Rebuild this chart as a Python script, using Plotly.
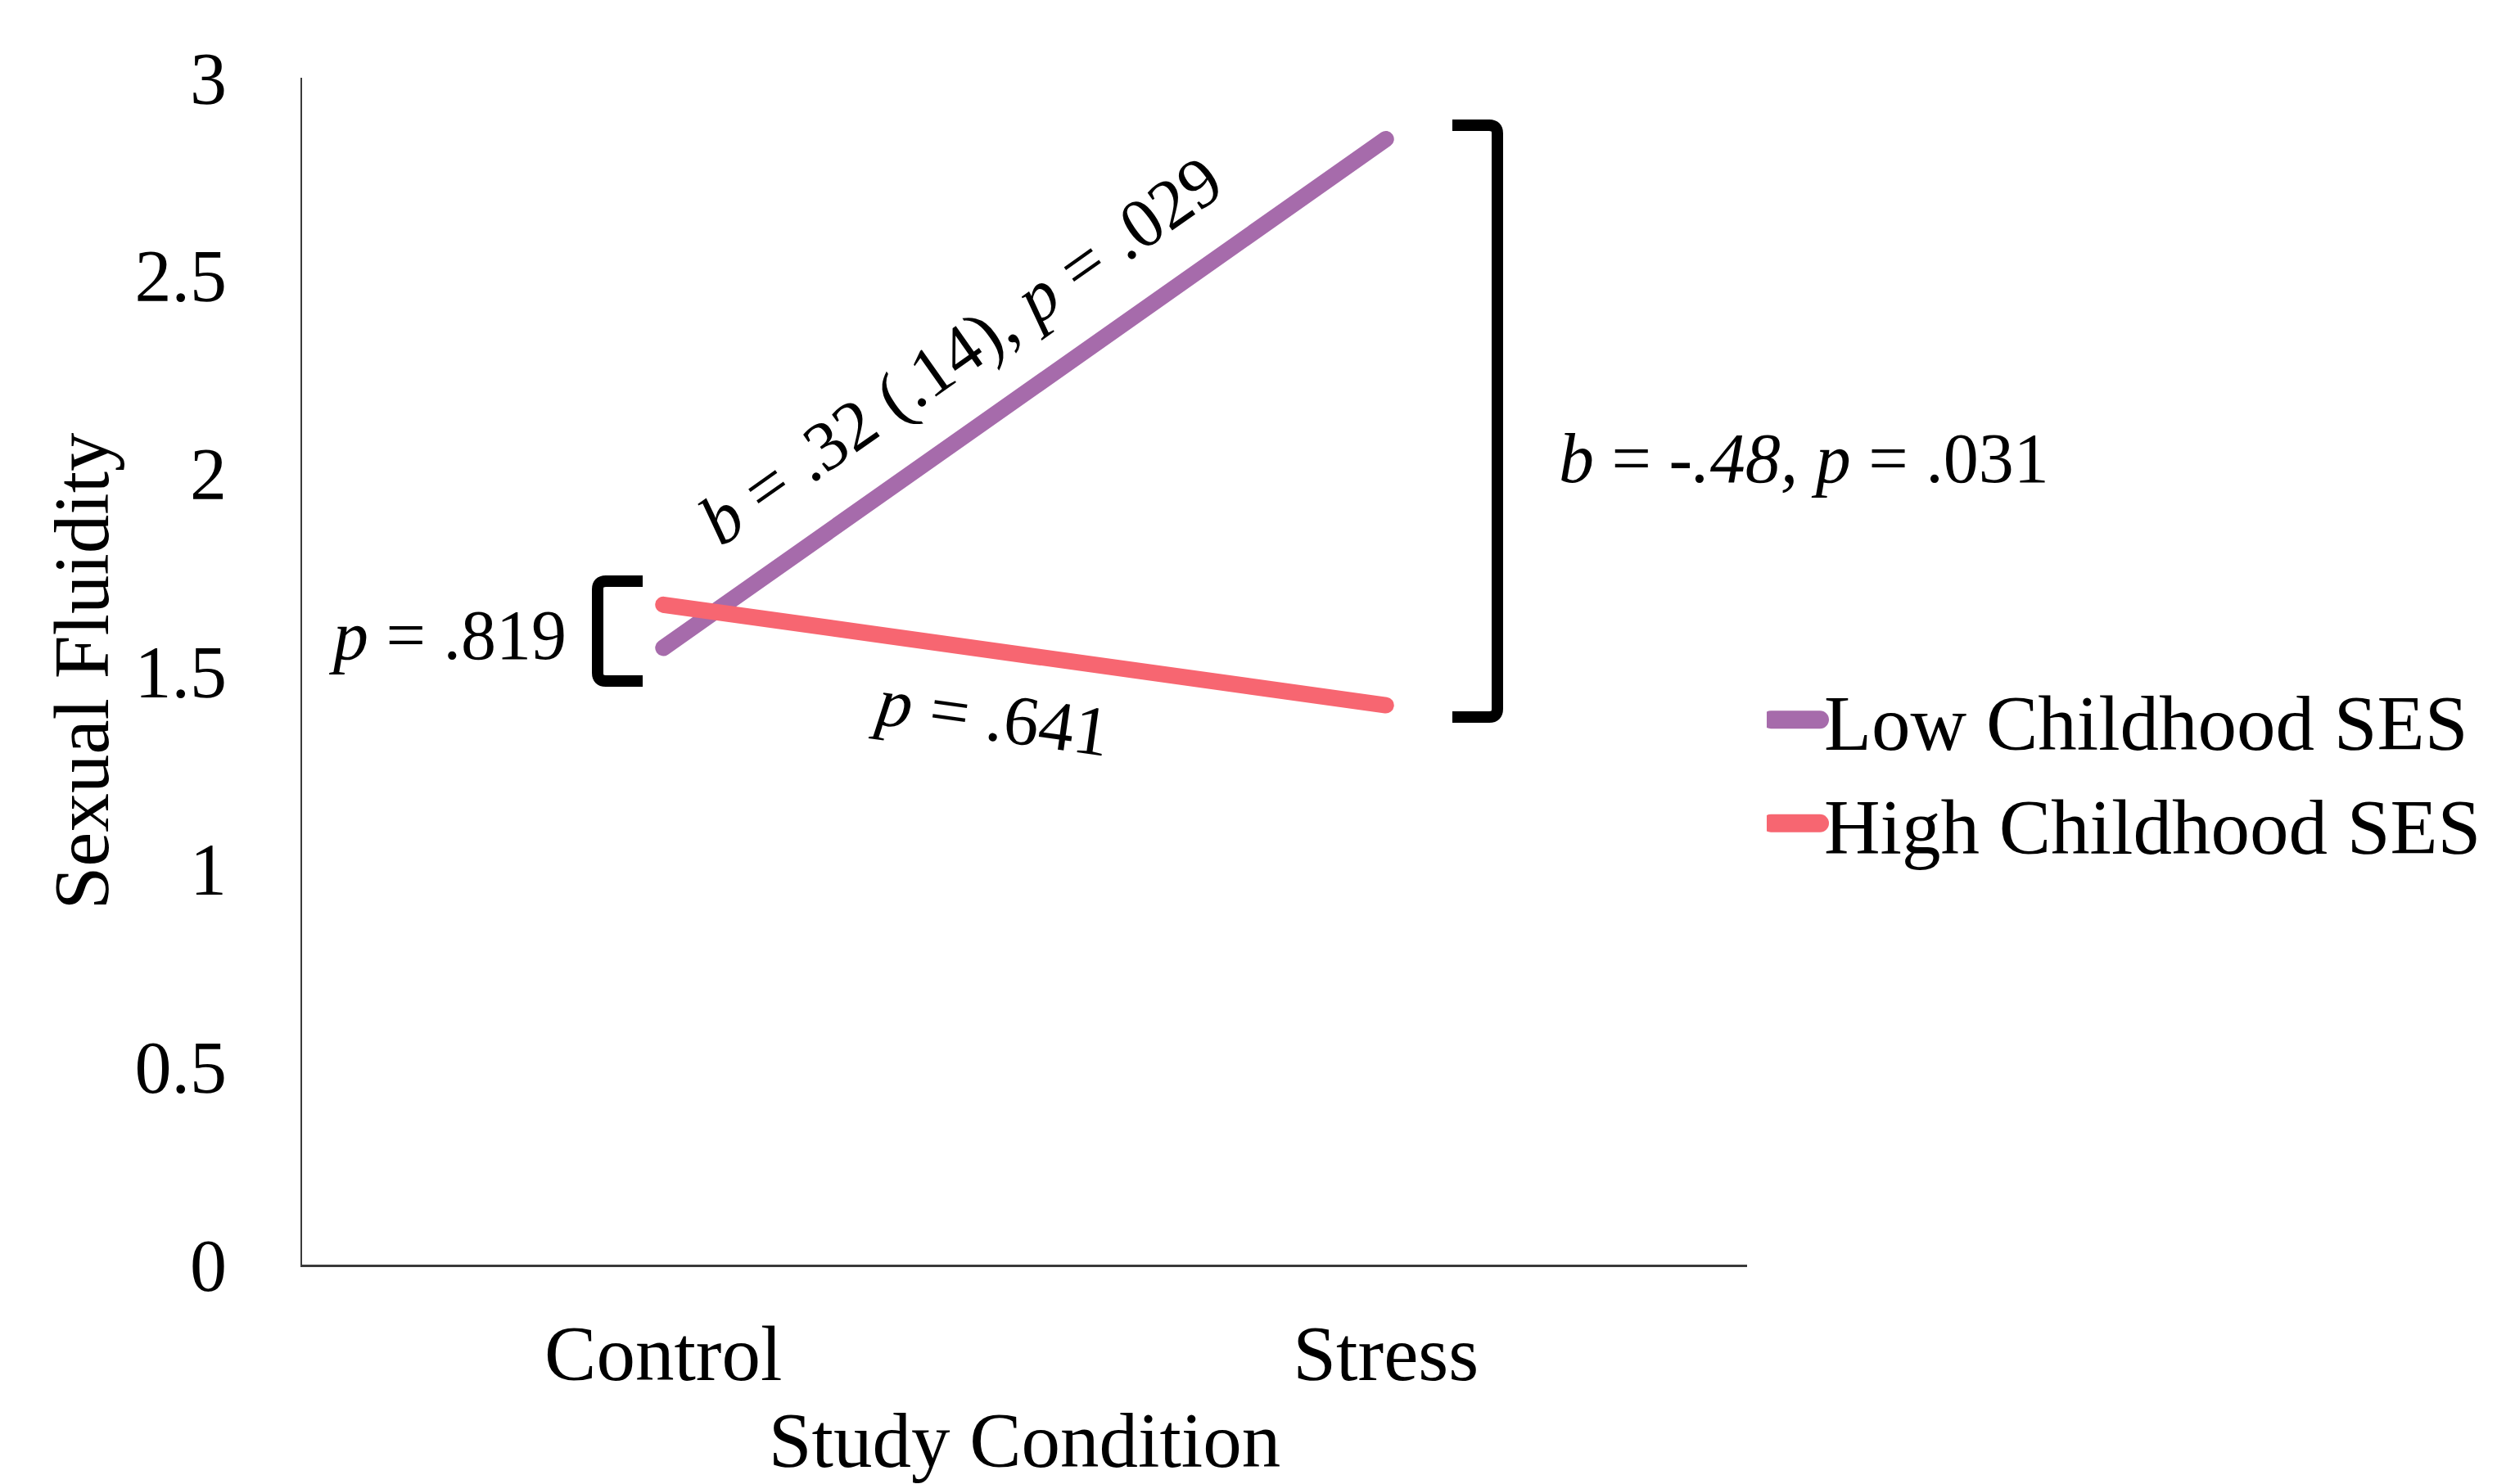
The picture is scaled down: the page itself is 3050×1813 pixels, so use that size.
import plotly.graph_objects as go

# ---- data ----
conditions = ["Control", "Stress"]
low_ses = [1.559, 2.845]
high_ses = [1.668, 1.414]
series_names = ["Low Childhood SES", "High Childhood SES"]
y_tick_vals = [0, 0.5, 1, 1.5, 2, 2.5, 3]
y_tick_text = ["0", "0.5", "1", "1.5", "2", "2.5", "3"]

PURPLE = "#A66BAB"
RED = "#F76671"
FONT = "Liberation Serif, Times New Roman, serif"

W, H = 3050, 1813
L, R, T, B = 361, 2126, 87, 1537

fig = go.Figure()
fig.add_trace(go.Scatter(x=conditions, y=low_ses, mode="lines", name=series_names[0],
                         line=dict(color=PURPLE, width=20)))
fig.add_trace(go.Scatter(x=conditions, y=high_ses, mode="lines", name=series_names[1],
                         line=dict(color=RED, width=20)))

def px2paper(px):
    return (px - L) / (R - L)

def py2data(py):
    return (B - py) / (B - T) * 3.0

ann_font = dict(family=FONT, size=86, color="black")
annotations = [
    dict(text="<i>p</i> = .819", x=px2paper(686), y=py2data(768), xref="paper", yref="y",
         xanchor="right", yanchor="middle", showarrow=False, font=ann_font),
    dict(text="<i>p</i> = .641", x=px2paper(1202), y=py2data(867), xref="paper", yref="y",
         xanchor="center", yanchor="middle", showarrow=False, textangle=7.9, font=ann_font),
    dict(text="<i>b</i> = .32 (.14), <i>p</i> = .029", x=px2paper(1165), y=py2data(420),
         xref="paper", yref="y", xanchor="center", yanchor="middle", showarrow=False,
         textangle=-35.1, font=ann_font),
    dict(text="<i>b</i> = <i>-.48, p</i> = .031", x=px2paper(1894), y=py2data(552),
         xref="paper", yref="y", xanchor="left", yanchor="middle", showarrow=False, font=ann_font),
]

def bracket(x_arm, x_bar, y_top, y_bot, r=10):
    s = 1 if x_bar > x_arm else -1
    xa, xb = px2paper(x_arm), px2paper(x_bar)
    xr = px2paper(x_bar - s * r)
    yt, yb = py2data(y_top), py2data(y_bot)
    ytr, ybr = py2data(y_top + r), py2data(y_bot - r)
    return (f"M {xa},{yt} L {xr},{yt} Q {xb},{yt} {xb},{ytr} "
            f"L {xb},{ybr} Q {xb},{yb} {xr},{yb} L {xa},{yb}")

shapes = [
    dict(type="path", xref="paper", yref="y", path=bracket(1766, 1821, 145, 868),
         line=dict(color="black", width=14)),
    dict(type="path", xref="paper", yref="y", path=bracket(777, 722, 702, 824),
         line=dict(color="black", width=14)),
]

fig.update_layout(
    width=W, height=H,
    margin=dict(l=L, r=W - R, t=T, b=H - B, pad=0, autoexpand=False),
    paper_bgcolor="white", plot_bgcolor="white",
    font=dict(family=FONT, size=95, color="black"),
    showlegend=True,
    legend=dict(x=px2paper(2150), y=(B - 803) / (B - T), xanchor="left", yanchor="top",
                font=dict(family=FONT, size=95, color="black"), itemwidth=60,
                bgcolor="rgba(0,0,0,0)", tracegroupgap=0),
    annotations=annotations,
    shapes=shapes,
    xaxis=dict(type="category", range=[-0.5, 1.5], showgrid=False, zeroline=False,
               showline=True, linecolor="#3a3a3a", linewidth=3, ticks="",
               automargin=False,
               tickfont=dict(size=95), ticklabelstandoff=24,
               title=dict(text="Study Condition", font=dict(size=95), standoff=18)),
    yaxis=dict(range=[0, 3], showgrid=False, zeroline=False, showline=True,
               linecolor="#3a3a3a", linewidth=2, ticks="", automargin=False,
               tickvals=y_tick_vals, ticktext=y_tick_text,
               tickfont=dict(size=90), ticklabelstandoff=72,
               title=dict(text="Sexual Fluidity", font=dict(size=95), standoff=0)),
)

post = """
var st = document.createElement('style');
st.innerHTML = '.js-line{stroke-linecap:round !important;} .legend .js-line{stroke-width:22px !important;}';
document.head.appendChild(st);
"""
fig.write_html("out.html", post_script=post)
